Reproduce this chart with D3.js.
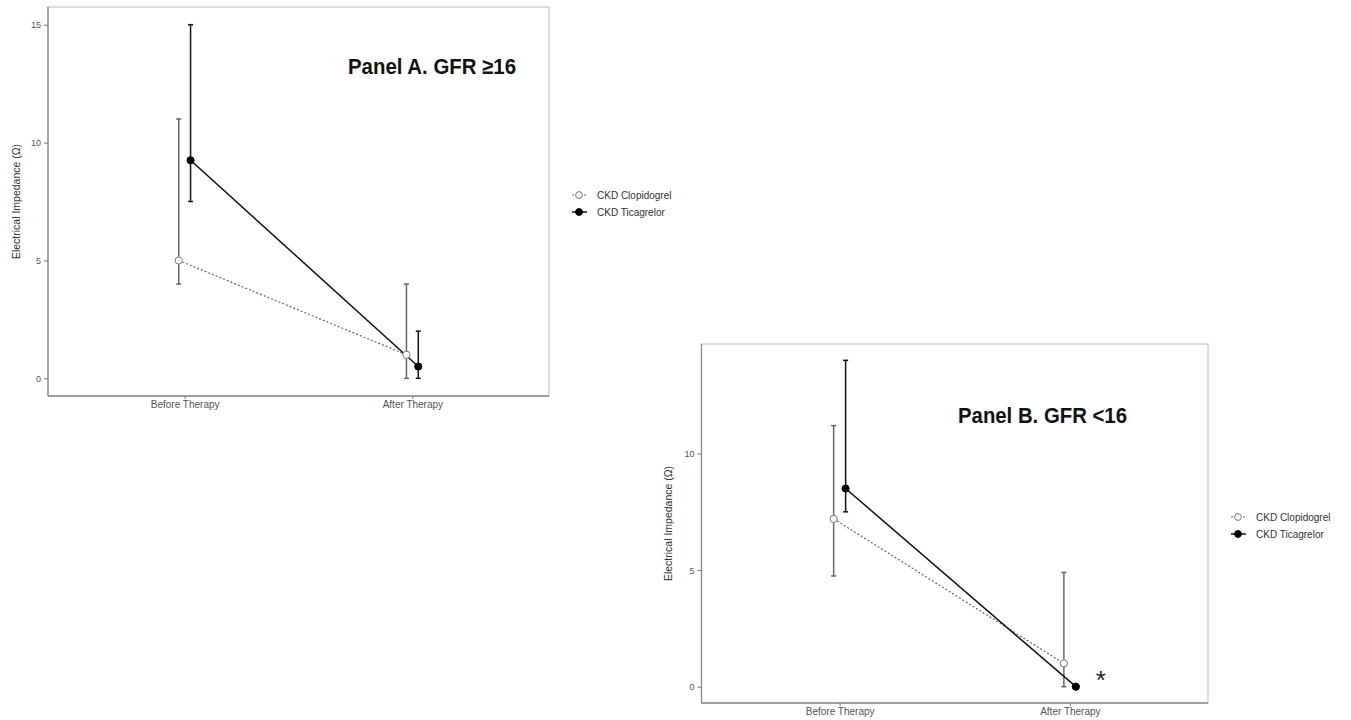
<!DOCTYPE html>
<meta charset="utf-8">
<style>
body { margin: 0; background: #fff; }
text { font-family: "Liberation Sans", Arial, sans-serif; }
.tick text { fill: #555; }
.tick line { stroke: #777; }
.domain { display: none; }
</style>
<body>
<script src="https://d3js.org/d3.v7.min.js"></script>
<script>

// categories and series
var categories = ["Before Therapy", "After Therapy"];
var seriesNames = ["CKD Clopidogrel", "CKD Ticagrelor"];

// Panel A (GFR >= 16)
var aClopMean = [5.0, 1.0], aClopLow = [4.0, 0], aClopHigh = [11.0, 4.0];
var aTicaMean = [9.25, 0.5], aTicaLow = [7.5, 0], aTicaHigh = [15.0, 2.0];
var aTicks = [0, 5, 10, 15];

// Panel B (GFR < 16)
var bClopMean = [7.2, 1.0], bClopLow = [4.75, 0], bClopHigh = [11.2, 4.9];
var bTicaMean = [8.5, 0], bTicaLow = [7.5, 0], bTicaHigh = [14.0, 0];
var bTicks = [0, 5, 10];

var svg = d3.select("body").append("svg")
    .attr("width", 1351)
    .attr("height", 720);

function drawPanel(p) {
  var x = d3.scaleLinear().domain([0.4, 2.6]).range([p.left, p.right]);
  var y = d3.scaleLinear().domain(p.ydom).range([p.bottom, p.top]);
  var dodge = 0.026;
  var g = svg.append("g");

  // panel box
  g.append("rect")
    .attr("x", p.left).attr("y", p.top)
    .attr("width", p.right - p.left).attr("height", p.bottom - p.top)
    .attr("fill", "none").attr("stroke", "#bbb").attr("stroke-width", 1);
  g.append("line").attr("x1", p.left).attr("x2", p.left)
    .attr("y1", p.top).attr("y2", p.bottom).attr("stroke", "#8a8a8a").attr("stroke-width", 1.3);
  g.append("line").attr("x1", p.left).attr("x2", p.right)
    .attr("y1", p.bottom).attr("y2", p.bottom).attr("stroke", "#8a8a8a").attr("stroke-width", 1.3);

  // axes
  g.append("g")
    .attr("transform", "translate(" + p.left + ",0)")
    .call(d3.axisLeft(y).tickValues(p.ticks).tickSize(4).tickPadding(3))
    .selectAll("text").attr("font-size", 9);
  g.append("g")
    .attr("transform", "translate(0," + p.bottom + ")")
    .call(d3.axisBottom(x).tickValues([1, 2]).tickSize(3).tickPadding(2)
      .tickFormat(function(d) { return categories[d - 1]; }))
    .selectAll("text").attr("font-size", 10).attr("fill", "#444");

  g.append("text")
    .attr("transform", "translate(" + p.ytitleX + "," + ((p.top + p.bottom) / 2) + ") rotate(-90)")
    .attr("text-anchor", "middle")
    .attr("font-size", 10.5).attr("fill", "#333")
    .text("Electrical Impedance (\u03A9)");

  var series = [
    {mean: p.clopMean, lo: p.clopLow, hi: p.clopHigh, off: -dodge, col: "#666", dash: "2,2", fill: "#fff", w: 1.2},
    {mean: p.ticaMean, lo: p.ticaLow, hi: p.ticaHigh, off: dodge, col: "#111", dash: null, fill: "#000", w: 1.5}
  ];

  series.forEach(function(s) {
    var pts = s.mean.map(function(m, i) { return {x: i + 1 + s.off, m: m, lo: s.lo[i], hi: s.hi[i]}; });
    // error bars
    pts.forEach(function(d) {
      if (d.hi === d.lo) return;
      g.append("line").attr("x1", x(d.x)).attr("x2", x(d.x))
        .attr("y1", y(d.lo)).attr("y2", y(d.hi))
        .attr("stroke", s.col).attr("stroke-width", 1.5);
      [d.lo, d.hi].forEach(function(v) {
        g.append("line").attr("x1", x(d.x) - 2.5).attr("x2", x(d.x) + 2.5)
          .attr("y1", y(v)).attr("y2", y(v))
          .attr("stroke", s.col).attr("stroke-width", 1.5);
      });
    });
    // connecting line
    g.append("path")
      .datum(pts)
      .attr("d", d3.line().x(function(d) { return x(d.x); }).y(function(d) { return y(d.m); }))
      .attr("fill", "none").attr("stroke", s.col).attr("stroke-width", s.w)
      .attr("stroke-dasharray", s.dash);
  });
  series.forEach(function(s) {
    s.mean.forEach(function(m, i) {
      g.append("circle")
        .attr("cx", x(i + 1 + s.off)).attr("cy", y(m)).attr("r", 3.6)
        .attr("fill", s.fill).attr("stroke", s.fill === "#fff" ? "#777" : "#000").attr("stroke-width", 1);
    });
  });

  // title
  g.append("text")
    .attr("x", p.titleX).attr("y", p.titleY)
    .attr("font-size", 22).attr("font-weight", "bold").attr("fill", "#111")
    .attr("textLength", p.titleW).attr("lengthAdjust", "spacingAndGlyphs")
    .text(p.title);

  // legend
  var lg = g.append("g");
  series.forEach(function(s, i) {
    var ly = p.legY + i * 17;
    lg.append("line").attr("x1", p.legX - 7).attr("x2", p.legX + 8)
      .attr("y1", ly).attr("y2", ly)
      .attr("stroke", s.col).attr("stroke-width", s.w).attr("stroke-dasharray", s.dash);
    lg.append("circle").attr("cx", p.legX).attr("cy", ly).attr("r", 3.4)
      .attr("fill", s.fill).attr("stroke", s.fill === "#fff" ? "#777" : "#000");
    lg.append("text").attr("x", p.legX + 18).attr("y", ly + 3.5)
      .attr("font-size", 10).attr("fill", "#333").text(seriesNames[i]);
  });
  return {x: x, y: y};
}

drawPanel({
  left: 48, right: 549, top: 7, bottom: 396, ydom: [-0.75, 15.75], ticks: aTicks,
  clopMean: aClopMean, clopLow: aClopLow, clopHigh: aClopHigh,
  ticaMean: aTicaMean, ticaLow: aTicaLow, ticaHigh: aTicaHigh,
  ytitleX: 20, title: "Panel A. GFR \u226516", titleX: 348, titleY: 74, titleW: 168,
  legX: 579, legY: 195
});

var pb = drawPanel({
  left: 701.5, right: 1208, top: 344, bottom: 703, ydom: [-0.7, 14.7], ticks: bTicks,
  clopMean: bClopMean, clopLow: bClopLow, clopHigh: bClopHigh,
  ticaMean: bTicaMean, ticaLow: bTicaLow, ticaHigh: bTicaHigh,
  ytitleX: 672, title: "Panel B. GFR <16", titleX: 958, titleY: 423, titleW: 169,
  legX: 1238, legY: 517
});

// significance mark next to Ticagrelor after therapy
svg.append("text")
  .attr("x", pb.x(2) + 31).attr("y", pb.y(bTicaMean[1]) + 2)
  .attr("text-anchor", "middle")
  .attr("font-size", 26).attr("fill", "#222")
  .text("*");

</script>
</body>
